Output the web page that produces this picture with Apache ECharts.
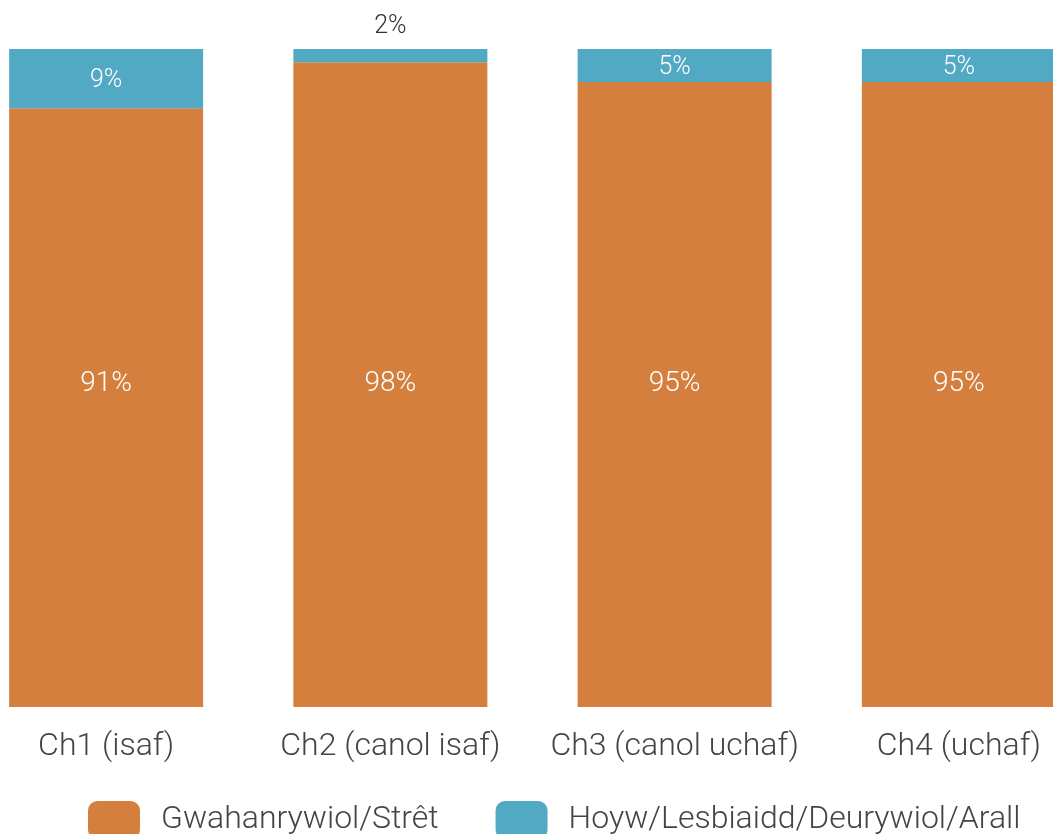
<!DOCTYPE html>
<html>
<head>
<meta charset="utf-8">
<script src="https://cdn.jsdelivr.net/npm/echarts@6/dist/echarts.min.js"></script>
<style>
  html, body { margin: 0; padding: 0; background: #fff; }
  #chart { width: 1053px; height: 834px; }
</style>
</head>
<body>
<div id="chart"></div>
<script>
'use strict';

// categories and values (percent)
var categories = ['Ch1 (isaf)', 'Ch2 (canol isaf)', 'Ch3 (canol uchaf)', 'Ch4 (uchaf)'];
var straight = [91, 98, 95, 95];
var other = [9, 2, 5, 5];
var seriesNames = ['Gwahanrywiol/Strêt', 'Hoyw/Lesbiaidd/Deurywiol/Arall'];

var FONT = 'Roboto, "Liberation Sans", sans-serif';

var myChart = echarts.init(document.getElementById('chart'));

// small slices get their label on top of the bar, in dark text
var otherData = other.map(function (v) {
  if (v < 3) {
    return { value: v, label: { position: 'top', color: '#333', distance: 12 } };
  }
  return v;
});

var option = {
  animation: false,
  grid: { left: -36, right: -48, top: 49, bottom: 127, containLabel: false, outerBoundsMode: 'none' },
  legend: {
    top: 801,
    left: 88,
    padding: 0,
    itemWidth: 52,
    itemHeight: 38,
    itemGap: 57,
    icon: 'roundRect',
    textStyle: { fontSize: 32, color: '#444', fontFamily: FONT, fontWeight: 300, padding: [0, 0, 0, 16] },
    data: seriesNames
  },
  xAxis: {
    type: 'category',
    data: categories,
    axisLine: { show: false },
    axisTick: { show: false },
    axisLabel: { interval: 0, fontSize: 32, color: '#444', fontFamily: FONT, fontWeight: 300, margin: 24 }
  },
  yAxis: {
    type: 'value',
    min: 0,
    max: 100,
    show: false,
    splitLine: { show: false }
  },
  series: [{
    name: seriesNames[0],
    type: 'bar',
    stack: 'total',
    barWidth: 194,
    itemStyle: { color: '#D47F3E' },
    label: {
      show: true,
      position: 'insideBottom',
      distance: 309,
      formatter: '{c}%',
      color: '#fff',
      fontSize: 28,
      fontFamily: FONT,
      fontWeight: 300
    },
    data: straight
  }, {
    name: seriesNames[1],
    type: 'bar',
    stack: 'total',
    barWidth: 194,
    itemStyle: { color: '#51A9C3' },
    label: {
      show: true,
      position: 'inside',
      offset: [0, 2],
      formatter: '{c}%',
      color: '#fff',
      fontSize: 25,
      fontFamily: FONT,
      fontWeight: 300
    },
    data: otherData
  }]
};

myChart.setOption(option);
</script>
</body>
</html>
